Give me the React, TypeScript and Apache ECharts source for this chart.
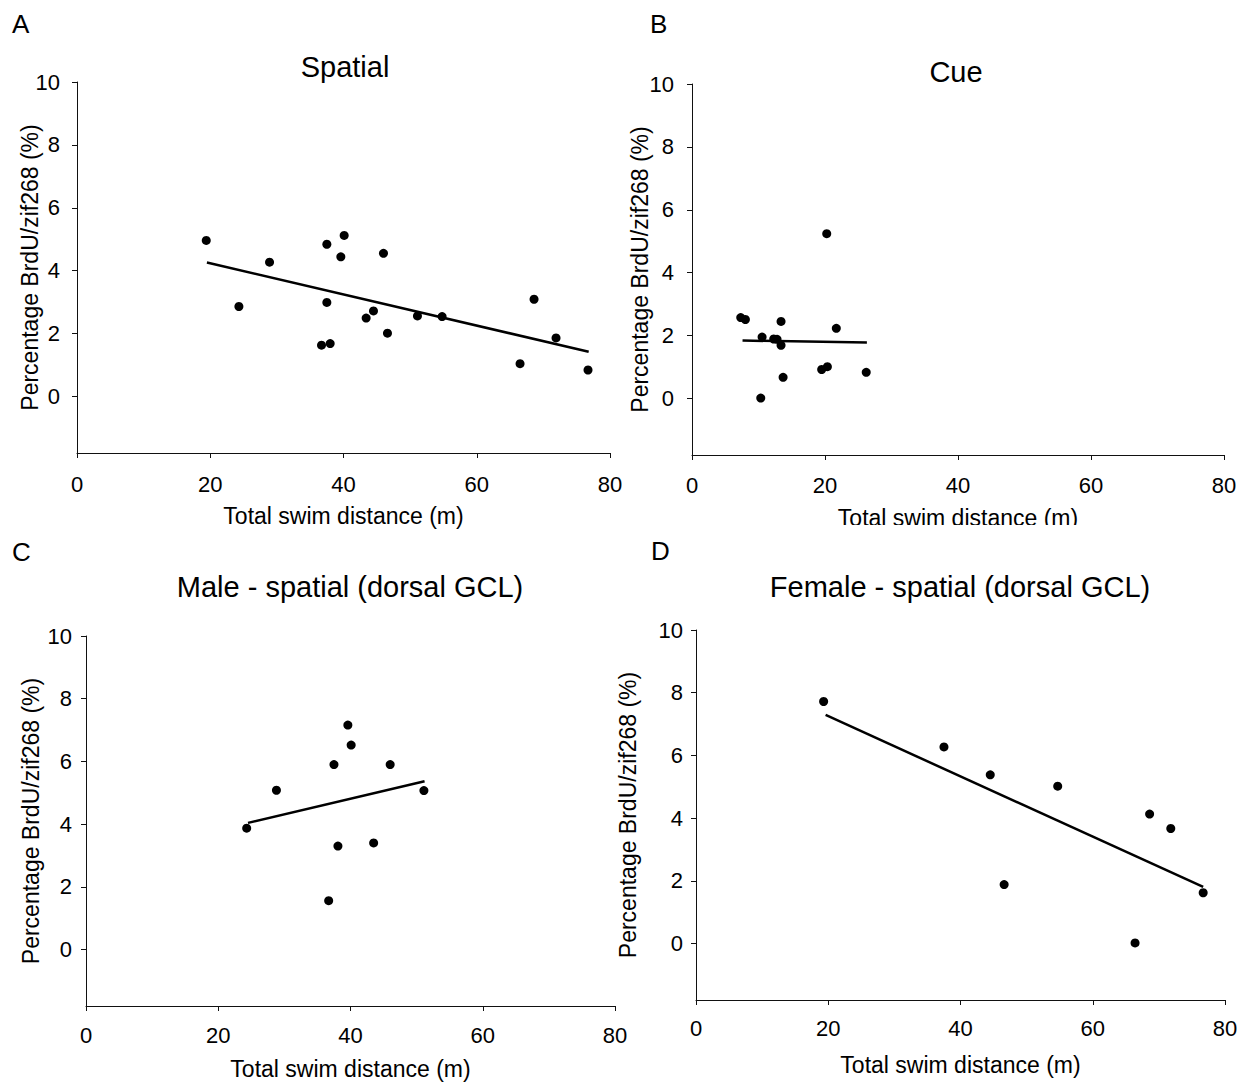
import React, { useEffect, useRef } from "react";
import * as echarts from "echarts";

// Panel A – Spatial
const spatialX = [19.4, 24.3, 28.9, 36.7, 37.5, 37.5, 38.0, 39.6, 40.1, 43.4, 44.5, 46.0, 46.6, 51.1, 54.8, 66.5, 68.6, 71.9, 76.7];
const spatialY = [4.96, 2.86, 4.27, 1.63, 4.84, 2.99, 1.68, 4.44, 5.12, 2.49, 2.72, 4.55, 2.01, 2.56, 2.54, 1.04, 3.09, 1.86, 0.84];
const spatialTrend = [[19.5, 4.26], [76.8, 1.42]];

// Panel B – Cue
const cueX = [7.33, 8.03, 10.54, 12.29, 12.79, 13.39, 13.39, 13.7, 10.34, 19.5, 20.36, 21.7, 20.26, 26.2];
const cueY = [2.57, 2.51, 1.95, 1.89, 1.88, 1.69, 2.45, 0.67, 0.01, 0.92, 1.01, 2.23, 5.24, 0.83];
const cueTrend = [[7.6, 1.84], [26.3, 1.78]];

// Panel C – Male spatial (dorsal GCL)
const maleX = [24.3, 28.8, 36.7, 37.5, 38.1, 39.6, 40.1, 43.5, 46.0, 51.1];
const maleY = [3.87, 5.08, 1.56, 5.9, 3.3, 7.16, 6.52, 3.4, 5.9, 5.07];
const maleTrend = [[24.5, 4.04], [51.2, 5.37]];

// Panel D – Female spatial (dorsal GCL)
const femaleX = [19.3, 37.5, 44.5, 46.6, 54.7, 66.4, 68.6, 71.8, 76.7];
const femaleY = [7.72, 6.27, 5.38, 1.88, 5.02, 0.02, 4.13, 3.67, 1.62];
const femaleTrend = [[19.6, 7.29], [76.7, 1.81]];

const panelLetters = ["A", "B", "C", "D"];
const panelTitles = ["Spatial", "Cue", "Male - spatial (dorsal GCL)", "Female - spatial (dorsal GCL)"];
const xTicks = [0, 20, 40, 60, 80];
const yTicks = [0, 2, 4, 6, 8, 10];
const xName = "Total swim distance (m)";
const yName = "Percentage BrdU/zif268 (%)";

const FONT = "'Liberation Sans', Arial, Helvetica, sans-serif";

const panels = [
  { xs: spatialX, ys: spatialY, trend: spatialTrend },
  { xs: cueX, ys: cueY, trend: cueTrend },
  { xs: maleX, ys: maleY, trend: maleTrend },
  { xs: femaleX, ys: femaleY, trend: femaleTrend },
];

// layout (pixels)
const grids = [
  { left: 77, top: 82, width: 533, height: 371 },
  { left: 692, top: 84, width: 532, height: 371 },
  { left: 86, top: 636, width: 529, height: 370 },
  { left: 696, top: 630, width: 529, height: 370 },
];
const xLabelMargin = [20, 19, 18, 17];
const yLabelMargin = [17, 18, 14, 13];
const xNameGap = [51, 51, 51, 53];
const yNameGap = [36, 41, 44, 57];
const titlePos = [
  [345, 67],
  [956, 72],
  [350, 587],
  [960, 587],
];
const letterPos = [
  [12, 24],
  [650, 24],
  [12, 552],
  [651, 551],
];

export default function App() {
  const ref = useRef<HTMLDivElement>(null);

  useEffect(() => {
    if (!ref.current) return;
    const chart = echarts.init(ref.current, undefined, { renderer: "svg" });

    const axisLine = { show: true, onZero: false, lineStyle: { color: "#111", width: 1 } };

    const xAxis = grids.map((_, i) => ({
      type: "value",
      gridIndex: i,
      min: 0,
      max: 80,
      interval: 20,
      axisLine,
      axisTick: { show: true, length: 5, lineStyle: { color: "#111" } },
      axisLabel: { color: "#000", fontSize: 22, fontFamily: FONT, margin: xLabelMargin[i], customValues: xTicks },
      splitLine: { show: false },
      name: xName,
      nameLocation: "middle",
      nameGap: xNameGap[i],
      nameMoveOverlap: false,
      nameTextStyle: { color: "#000", fontSize: 23, fontFamily: FONT },
    }));

    const yAxis = grids.map((_, i) => ({
      type: "value",
      gridIndex: i,
      min: -1.8,
      max: 10,
      axisLine,
      axisTick: { show: true, length: 5, lineStyle: { color: "#111" }, customValues: yTicks },
      axisLabel: { color: "#000", fontSize: 22, fontFamily: FONT, margin: yLabelMargin[i], customValues: yTicks },
      splitLine: { show: false },
      name: yName,
      nameLocation: "middle",
      nameGap: yNameGap[i],
      nameMoveOverlap: false,
      nameTextStyle: { color: "#000", fontSize: 23, fontFamily: FONT },
    }));

    const series: any[] = [];
    panels.forEach((p, i) => {
      series.push({
        type: "line",
        xAxisIndex: i,
        yAxisIndex: i,
        data: p.trend,
        symbol: "none",
        lineStyle: { color: "#000", width: 2.5 },
        z: 2,
      });
      series.push({
        type: "scatter",
        xAxisIndex: i,
        yAxisIndex: i,
        data: p.xs.map((x, k) => [x, p.ys[k]]),
        symbol: "circle",
        symbolSize: 9,
        itemStyle: { color: "#000", opacity: 1 },
        z: 3,
      });
    });

    const graphic: any[] = [];
    panelTitles.forEach((t, i) => {
      graphic.push({
        type: "text",
        x: titlePos[i][0],
        y: titlePos[i][1],
        style: { text: t, fontSize: 29, fontFamily: FONT, fill: "#000", align: "center", verticalAlign: "middle" },
      });
    });
    panelLetters.forEach((t, i) => {
      graphic.push({
        type: "text",
        x: letterPos[i][0],
        y: letterPos[i][1],
        style: { text: t, fontSize: 26, fontFamily: FONT, fill: "#000", align: "left", verticalAlign: "middle" },
      });
    });
    // the reference crops the bottom of panel B's axis name
    graphic.push({
      type: "rect",
      shape: { x: 770, y: 525, width: 360, height: 14 },
      style: { fill: "#fff" },
      z: 100,
    });

    chart.setOption({
      animation: false,
      backgroundColor: "#fff",
      grid: grids.map((g) => ({ ...g, containLabel: false })),
      xAxis,
      yAxis,
      series,
      graphic,
    });

    return () => chart.dispose();
  }, []);

  return (
    <div
      ref={ref}
      style={{ position: "absolute", left: 0, top: 0, width: 1249, height: 1083, background: "#fff" }}
    />
  );
}
